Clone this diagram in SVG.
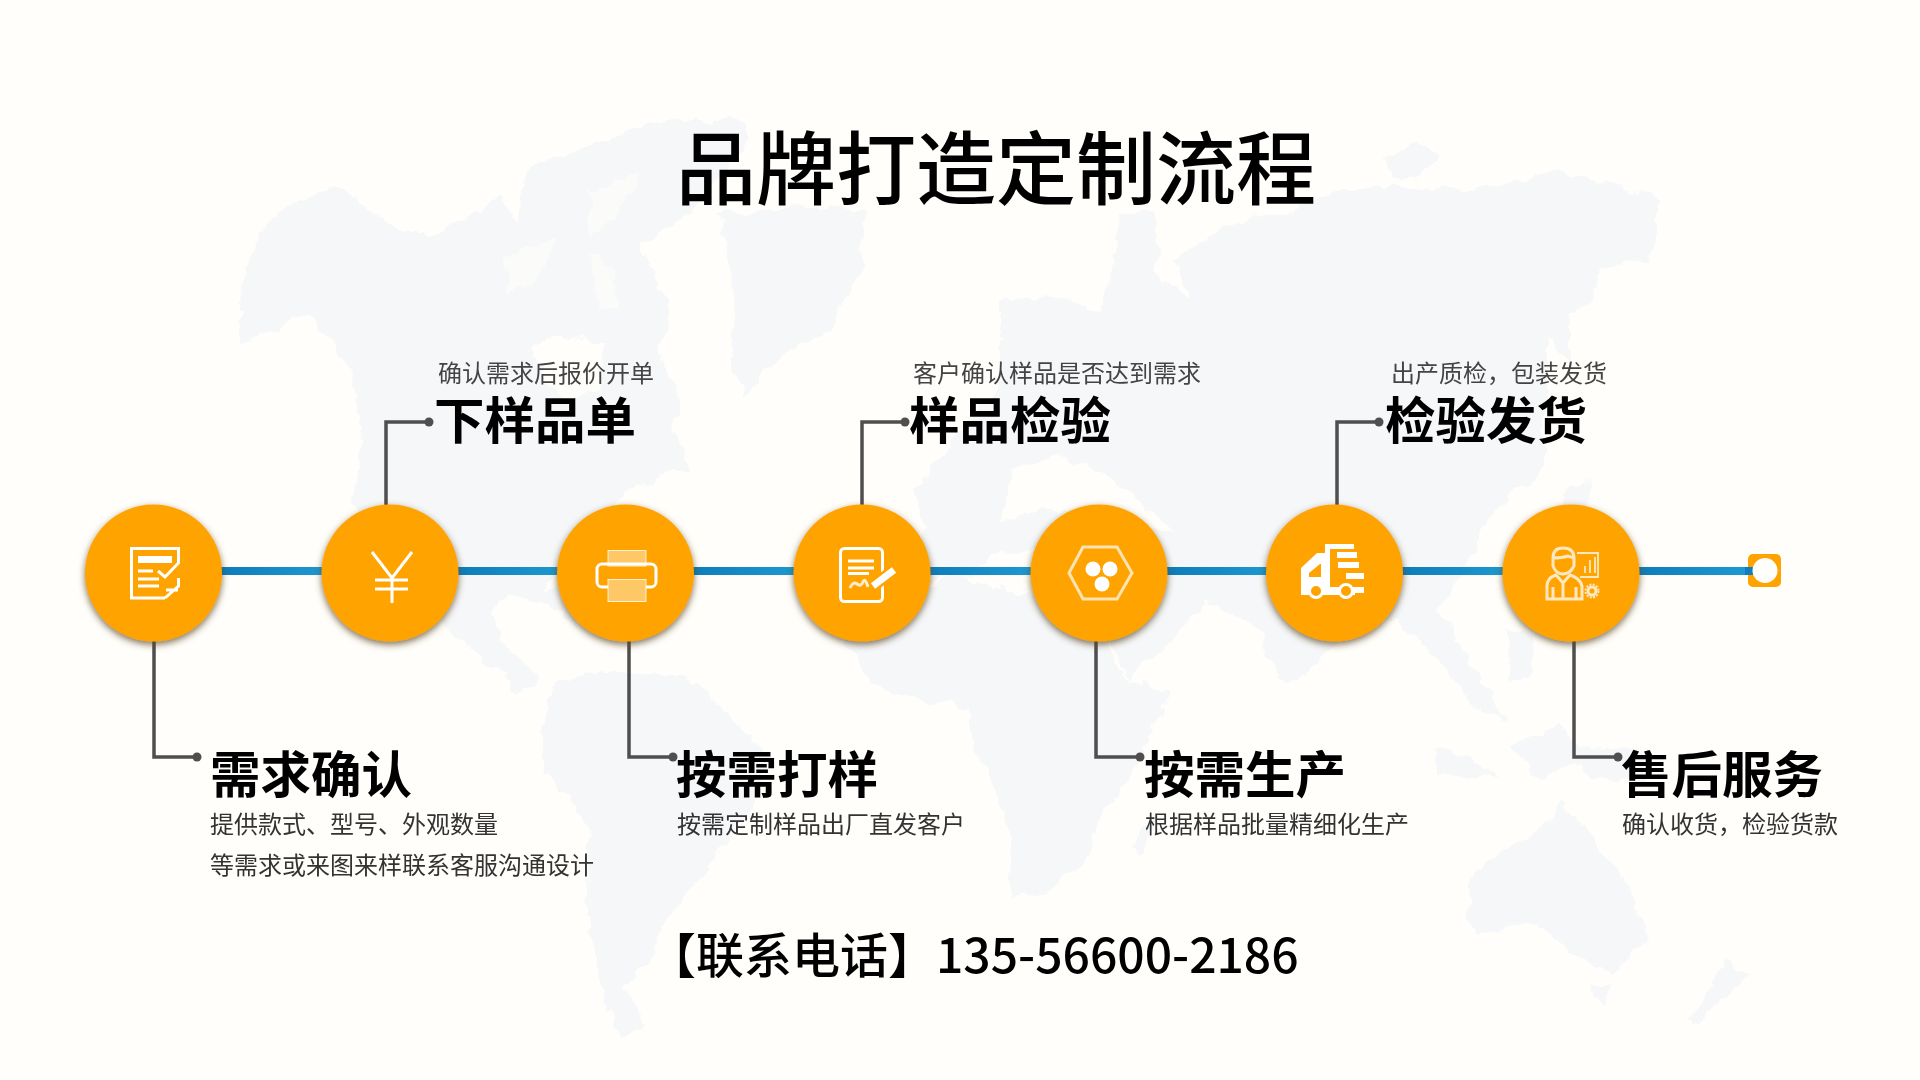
<svg xmlns="http://www.w3.org/2000/svg" width="1920" height="1080" viewBox="0 0 1920 1080">
<style>
text{font-family:"Noto Sans CJK SC","Noto Sans",sans-serif}
.h{font-size:50.500px;font-weight:700;fill:#000}
.s{font-size:24px;fill:#333}
.u{font-size:24px;fill:#444}
.t{font-size:80px;font-weight:500;fill:#000}
.p{font-size:48px;font-weight:500;fill:#000}
.land{fill:#f5f7f9}
.sea{fill:#fffefa}
.c{fill:#ffa300;filter:url(#shadow)}
.seg{fill:url(#bar)}
.con{fill:none;stroke:#4f4f4f;stroke-width:3.5}
.dot{fill:#4f4f4f}
.i{fill:none;stroke:#fff;stroke-width:3}
.f{fill:#fff;stroke:none}
</style>
<defs>
<filter id="shadow" x="-20%" y="-20%" width="140%" height="140%"><feDropShadow dx="0" dy="3" stdDeviation="3.500" flood-color="#5a4520" flood-opacity=".75"/></filter>
<filter id="rough" x="-5%" y="-5%" width="110%" height="110%"><feTurbulence type="fractalNoise" baseFrequency=".05" numOctaves="4" seed="4"/><feDisplacementMap in="SourceGraphic" scale="16" xChannelSelector="R" yChannelSelector="G"/></filter>
<linearGradient id="bar" x1="0" x2="1" y1="0" y2="0"><stop offset="0" stop-color="#0c7bb8"/><stop offset="1" stop-color="#1f9bd2"/></linearGradient>
</defs>
<rect width="1920" height="1080" fill="#fffefa"/>
<g id="map" filter="url(#rough)">
<path class="land" d="M240,300L253,243L283,207L340,188L400,233L440,233L467,217L500,193L517,225L525,170L573,150L667,120L740,120L750,137L690,213L640,243L673,317L657,350L680,400L673,427L687,467L623,490L600,540L560,570L545,590L575,590L578,628L560,610L510,592L490,610L500,640L525,662L540,678L520,690L470,650L437,617L400,600L362,545L353,500L363,433L350,367L307,313L240,347Z"/>
<path class="sea" d="M533,345L560,335L607,345L600,387L565,400L540,375Z"/>
<path class="sea" d="M505,255L555,240L540,275L512,295ZM590,190L640,172L615,220L590,235ZM590,255L612,265L620,310L598,302Z" opacity=".6"/>
<path class="land" d="M720,215L800,205L865,210L860,270L830,330L770,365L745,395L730,360L735,300Z"/>
<path class="land" d="M545,715L558,680L600,672L683,672L720,705L770,760L750,810L715,860L664,925L650,960L625,987L644,1027L625,1038L606,1010L587,927L590,825L545,770Z"/>
<path class="land" d="M845,643L860,610L900,590L960,575L1010,590L1050,600L1090,610L1125,680L1170,690L1142,760L1094,827L1094,853L1037,897L1013,897L1008,827L970,737L970,707L884,693Z"/>
<path class="land" d="M1132,845L1150,815L1153,835L1140,855Z"/>
<path class="land" d="M905,580L925,530L915,490L960,430L1000,385L1000,300L1060,297L1100,310L1113,270L1120,215L1153,210L1160,280L1190,295L1173,260L1227,225L1307,205L1333,187L1500,187L1560,170L1659,200L1649,260L1601,267L1592,300L1570,315L1567,360L1548,340L1544,417L1544,467L1487,515L1470,560L1440,610L1470,660L1505,720L1480,710L1430,650L1400,620L1360,615L1305,677L1280,680L1257,627L1205,600L1190,620L1127,680L1095,600L1080,570L1050,555L1000,550L970,575Z"/>
<path class="sea" d="M1010,470L1060,455L1110,480L1150,510L1175,530L1130,525L1085,510L1040,510L1000,520Z"/>
<path class="land" d="M1381,160L1415,143L1439,155L1420,177L1390,180Z"/>
<path class="land" d="M1565,490L1590,480L1580,520L1560,560L1545,565L1555,530Z"/>
<path class="land" d="M1508,630L1530,635L1528,680L1510,680Z"/>
<path class="land" d="M1430,745L1470,760L1500,777L1440,775ZM1510,745L1560,725L1590,760L1540,780ZM1580,745L1640,750L1650,785L1590,775Z"/>
<path class="land" d="M1467,885L1500,850L1545,830L1563,800L1590,835L1625,880L1650,935L1610,975L1565,945L1530,925L1480,935L1467,920Z"/>
<path class="land" d="M1590,985L1612,985L1602,1005Z"/>
<path class="land" d="M1725,960L1750,975L1720,1000L1700,1025L1688,1020L1710,990Z"/>
</g>
<g id="title"><text class="t" x="676" y="198">品牌打造定制流程</text></g>
<g id="connectors">
<rect class="seg" x="215" y="567" width="120" height="8"/>
<rect class="seg" x="450" y="567" width="120" height="8"/>
<rect class="seg" x="685" y="567" width="120" height="8"/>
<rect class="seg" x="920" y="567" width="120" height="8"/>
<rect class="seg" x="1160" y="567" width="120" height="8"/>
<rect class="seg" x="1395" y="567" width="120" height="8"/>
<rect class="seg" x="1630" y="567" width="123" height="8"/>
<path class="con" d="M154,640V757H197"/><circle class="dot" cx="197" cy="757" r="4.500"/>
<path class="con" d="M386,510V422H429"/><circle class="dot" cx="429" cy="422" r="4.500"/>
<path class="con" d="M629,640V757H673"/><circle class="dot" cx="673" cy="757" r="4.500"/>
<path class="con" d="M862,510V422H905"/><circle class="dot" cx="905" cy="422" r="4.500"/>
<path class="con" d="M1096,640V757H1140"/><circle class="dot" cx="1140" cy="757" r="4.500"/>
<path class="con" d="M1337,510V422H1379"/><circle class="dot" cx="1379" cy="422" r="4.500"/>
<path class="con" d="M1574,640V757H1618"/><circle class="dot" cx="1618" cy="757" r="4.500"/>
</g>
<g id="node-1">
<circle class="c" cx="153.500" cy="573" r="68.500"/>
<path class="i" d="M165,598H131.500V548.500H178.500V563L165,577L158,571"/>
<rect class="f" x="138" y="556" width="34" height="7"/>
<path class="i" stroke-width="2.500" d="M138,571H153M138,579H159M138,586H159"/>
<path class="i" d="M165,598L178.500,586V578M166,590H178"/>
<text class="h" x="210" y="793">需求确认</text>
<text class="s" x="210" y="833">提供款式、型号、外观数量</text>
<text class="s" x="210" y="874">等需求或来图来样联系客服沟通设计</text>
</g>
<g id="node-2">
<circle class="c" cx="390" cy="573" r="68.500"/>
<path class="i" d="M372,552L392,578L412,552M392,578V603M375,580H408M375,589H408"/>
<text class="h" x="434" y="439">下样品单</text>
<text class="u" x="438" y="382">确认需求后报价开单</text>
</g>
<g id="node-3">
<circle class="c" cx="625.500" cy="573" r="68.500"/>
<rect class="i" stroke-width="1.800" x="597" y="564" width="59" height="23" rx="5"/>
<rect x="608" y="550.500" width="38" height="15.500" fill="#fff" fill-opacity=".4" stroke="#fff" stroke-opacity=".8"/>
<rect x="608" y="579.500" width="38" height="22" fill="#ffa300"/>
<rect x="608" y="579.500" width="38" height="22" fill="#fff" fill-opacity=".4" stroke="#fff" stroke-opacity=".8"/>
<text class="h" x="676" y="793">按需打样</text>
<text class="s" x="677" y="833">按需定制样品出厂直发客户</text>
</g>
<g id="node-4">
<circle class="c" cx="862" cy="573" r="68.500"/>
<rect class="i" x="840.500" y="548.500" width="42" height="53" rx="4"/>
<path class="i" stroke-width="2.500" d="M848,561H874M848,568H874M848,573.500H869"/>
<path class="i" stroke-width="1.800" opacity=".8" d="M850,588Q853,581 857,584T863,582T868,587"/>
<path d="M872,587L895,569" stroke="#ffa300" stroke-width="12" fill="none"/>
<path d="M873,586L894,570" stroke="#fff" stroke-width="7" fill="none"/>
<text class="h" x="909" y="439">样品检验</text>
<text class="u" x="913" y="382">客户确认样品是否达到需求</text>
</g>
<g id="node-5">
<circle class="c" cx="1099" cy="573" r="68.500"/>
<path class="i" stroke-width="1.500" opacity=".7" d="M1069,573L1083,547H1117L1132,573L1117,599H1083Z"/>
<circle class="f" cx="1093" cy="569" r="7.500"/><circle class="f" cx="1110" cy="569" r="7.500"/><circle class="f" cx="1102" cy="584" r="7.500"/>
<text class="h" x="1144" y="793">按需生产</text>
<text class="s" x="1145" y="833">根据样品批量精细化生产</text>
</g>
<g id="node-6">
<circle class="c" cx="1334.500" cy="573" r="68.500"/>
<path class="f" d="M1301,595V568L1317,553H1325V544H1354V549H1330V587H1364V593H1355V595H1301Z"/>
<rect class="f" x="1337" y="552" width="20" height="6"/><rect class="f" x="1338" y="562" width="21" height="6"/><rect class="f" x="1346" y="573" width="18" height="6"/>
<path d="M1309,577V573L1320,564H1321V577Z" fill="#ffa300"/>
<circle cx="1316" cy="591" r="6.500" fill="#ffa300" stroke="#fff" stroke-width="3"/>
<circle cx="1346" cy="591" r="6.500" fill="#ffa300" stroke="#fff" stroke-width="3"/>
<text class="h" x="1385" y="439">检验发货</text>
<text class="u" x="1391" y="382">出产质检，包装发货</text>
</g>
<g id="node-7">
<circle class="c" cx="1571" cy="573" r="68.500"/>
<g class="i" stroke-width="1.200" opacity=".75">
<path d="M1553,558Q1553,548 1563,548Q1574,548 1574,558V566Q1570,574 1563,574Q1556,574 1553,566Z"/>
<path d="M1553,558Q1562,558 1568,556L1574,558"/>
<path d="M1547,599V586Q1547,578 1556,575L1563,583L1570,575Q1580,578 1582,586V599ZM1553,587V599M1576,587V599M1563,583V599"/>
<path d="M1577,553H1598V577H1580M1585,573V566M1590,573V560M1595,573V557" stroke-width="1.800"/>
<circle cx="1592" cy="591" r="4"/>
<circle cx="1592" cy="591" r="6.500" stroke-dasharray="2 1.400" stroke-width="2"/>
</g>
<text class="h" x="1621" y="793">售后服务</text>
<text class="s" x="1622" y="833">确认收货，检验货款</text>
</g>
<g id="line-end">
<rect x="1748" y="554" width="33" height="33" rx="5" fill="#ffa300"/>
<rect x="1745" y="567" width="8" height="8" fill="#0e7fbc"/>
<circle cx="1765" cy="570.500" r="12.500" fill="#fffefa"/>
</g>
<g id="phone"><text class="p" x="648" y="973">【联系电话】135-56600-2186</text></g>
</svg>
